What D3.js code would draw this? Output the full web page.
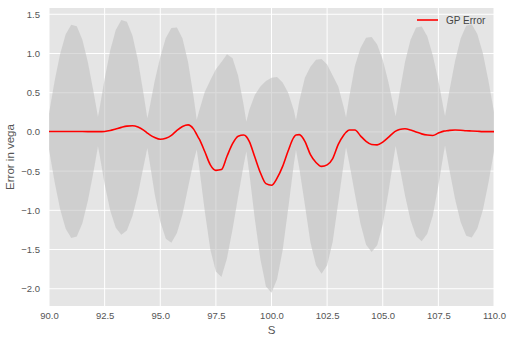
<!DOCTYPE html>
<html>
<head>
<meta charset="utf-8">
<script src="https://cdn.jsdelivr.net/npm/d3@7"></script>
<style>
    body { margin: 0; background: #fff; }
    text { font-family: "Liberation Sans", Arial, sans-serif; }
</style>
</head>
<body>
<div id="chart"></div>
<script>
// S values along the x-axis
const sValues = [90, 90.25, 90.5, 90.75, 91, 91.25, 91.5, 91.75, 92, 92.2, 92.25, 92.5, 92.75, 93, 93.25, 93.5, 93.75, 94, 94.25, 94.42, 94.5, 94.75, 95, 95.25, 95.5, 95.75, 96, 96.25, 96.5, 96.64, 96.75, 97, 97.25, 97.5, 97.75, 98, 98.25, 98.5, 98.75, 98.87, 99, 99.25, 99.5, 99.75, 100, 100.25, 100.5, 100.75, 101, 101.1, 101.25, 101.5, 101.75, 102, 102.25, 102.5, 102.75, 103, 103.25, 103.35, 103.5, 103.75, 104, 104.25, 104.5, 104.75, 105, 105.25, 105.5, 105.58, 105.75, 106, 106.25, 106.5, 106.75, 107, 107.25, 107.5, 107.75, 107.8, 108, 108.25, 108.5, 108.75, 109, 109.25, 109.5, 109.75, 110];

// GP error in vega (red line)
const gpError = [0.005, 0.005, 0.005, 0.006, 0.006, 0.006, 0.005, 0.004, 0.003, 0.003, 0.003, 0.006, 0.018, 0.038, 0.058, 0.074, 0.078, 0.062, 0.022, -0.015, -0.032, -0.072, -0.094, -0.082, -0.045, 0.02, 0.07, 0.09, 0.035, -0.035, -0.09, -0.25, -0.42, -0.49, -0.48, -0.31, -0.15, -0.055, -0.04, -0.06, -0.12, -0.32, -0.52, -0.66, -0.68, -0.59, -0.44, -0.24, -0.07, -0.04, -0.035, -0.12, -0.29, -0.39, -0.44, -0.42, -0.34, -0.16, -0.04, -0.005, 0.025, 0.025, -0.05, -0.12, -0.16, -0.165, -0.13, -0.07, -0.005, 0.01, 0.03, 0.04, 0.025, 0.0, -0.025, -0.04, -0.045, -0.015, 0.01, 0.012, 0.02, 0.025, 0.022, 0.015, 0.012, 0.008, 0.004, 0.003, 0.003];

// half-width of the grey band around the error
const bandWidth = [0.23, 0.64, 0.99, 1.24, 1.36, 1.34, 1.17, 0.88, 0.51, 0.19, 0.26, 0.67, 1.02, 1.26, 1.37, 1.33, 1.15, 0.85, 0.46, 0.19, 0.31, 0.72, 1.05, 1.28, 1.37, 1.31, 1.12, 0.80, 0.41, 0.19, 0.36, 0.76, 1.08, 1.29, 1.37, 1.30, 1.09, 0.77, 0.38, 0.19, 0.40, 0.79, 1.10, 1.31, 1.37, 1.29, 1.07, 0.74, 0.35, 0.19, 0.43, 0.81, 1.12, 1.31, 1.37, 1.28, 1.06, 0.74, 0.35, 0.19, 0.43, 0.82, 1.12, 1.32, 1.37, 1.28, 1.05, 0.71, 0.31, 0.19, 0.46, 0.85, 1.15, 1.33, 1.37, 1.26, 1.02, 0.67, 0.26, 0.19, 0.51, 0.88, 1.17, 1.34, 1.36, 1.24, 1.00, 0.65, 0.25];

const xTicks = [90, 92.5, 95, 97.5, 100, 102.5, 105, 107.5, 110];
const yTicks = [-2.0, -1.5, -1.0, -0.5, 0.0, 0.5, 1.0, 1.5];

const margin = { top: 8, right: 20, bottom: 37, left: 49 };
const width = 514 - margin.left - margin.right;
const height = 343 - margin.top - margin.bottom;

const data = sValues.map((s, i) => ({ s: s, e: gpError[i], w: bandWidth[i] }));

const svg = d3
    .select('#chart')
    .append('svg')
    .attr('width', 514)
    .attr('height', 343);

const g = svg.append('g').attr('transform', `translate(${margin.left},${margin.top})`);

const xScale = d3.scaleLinear().domain([90, 110]).range([0, width]);
const yScale = d3.scaleLinear().domain([-2.22, 1.58]).range([height, 0]);

// background
g.append('rect').attr('width', width).attr('height', height).attr('fill', '#e5e5e5');

// grid lines
g.selectAll('.xgrid')
    .data(xTicks)
    .enter()
    .append('line')
    .attr('x1', (d) => xScale(d))
    .attr('x2', (d) => xScale(d))
    .attr('y1', 0)
    .attr('y2', height)
    .attr('stroke', '#fff')
    .attr('stroke-width', 1);

g.selectAll('.ygrid')
    .data(yTicks)
    .enter()
    .append('line')
    .attr('x1', 0)
    .attr('x2', width)
    .attr('y1', (d) => yScale(d))
    .attr('y2', (d) => yScale(d))
    .attr('stroke', '#fff')
    .attr('stroke-width', 1);

// grey band
const area = d3
    .area()
    .x((d) => xScale(d.s))
    .y0((d) => yScale(d.e - d.w))
    .y1((d) => yScale(d.e + d.w));

g.append('path')
    .datum(data)
    .attr('fill', '#bdbdbd')
    .attr('fill-opacity', 0.55)
    .attr('d', area);

// error line
const line = d3
    .line()
    .x((d) => xScale(d.s))
    .y((d) => yScale(d.e))
    .curve(d3.curveMonotoneX);

g.append('path')
    .datum(data)
    .attr('fill', 'none')
    .attr('stroke', 'red')
    .attr('stroke-width', 1.6)
    .attr('d', line);

// axes
const xAxis = d3.axisBottom(xScale).tickValues(xTicks).tickFormat(d3.format('.1f')).tickSize(0).tickPadding(6);
const yAxis = d3.axisLeft(yScale).tickValues(yTicks).tickFormat(d3.format('.1f')).tickSize(0).tickPadding(9);

const gx = g.append('g').attr('transform', `translate(0,${height})`).call(xAxis);
const gy = g.append('g').call(yAxis);

[gx, gy].forEach((ax) => {
    ax.select('.domain').remove();
    ax.selectAll('text')
        .attr('fill', '#555')
        .style('font-size', '9.5px')
        .style('font-family', '"Liberation Sans", Arial, sans-serif');
});

// axis labels
g.append('text')
    .attr('x', width / 2)
    .attr('y', height + 28)
    .attr('text-anchor', 'middle')
    .attr('fill', '#555')
    .style('font-size', '11.5px')
    .text('S');

g.append('text')
    .attr('transform', 'rotate(-90)')
    .attr('x', -height / 2)
    .attr('y', -35)
    .attr('text-anchor', 'middle')
    .attr('fill', '#555')
    .style('font-size', '11.5px')
    .text('Error in vega');

// legend
g.append('line')
    .attr('x1', 368)
    .attr('x2', 389)
    .attr('y1', 12)
    .attr('y2', 12)
    .attr('stroke', 'red')
    .attr('stroke-width', 1.6);

g.append('text')
    .attr('x', 397)
    .attr('y', 15.5)
    .attr('fill', '#444')
    .style('font-size', '10px')
    .text('GP Error');
</script>
</body>
</html>
